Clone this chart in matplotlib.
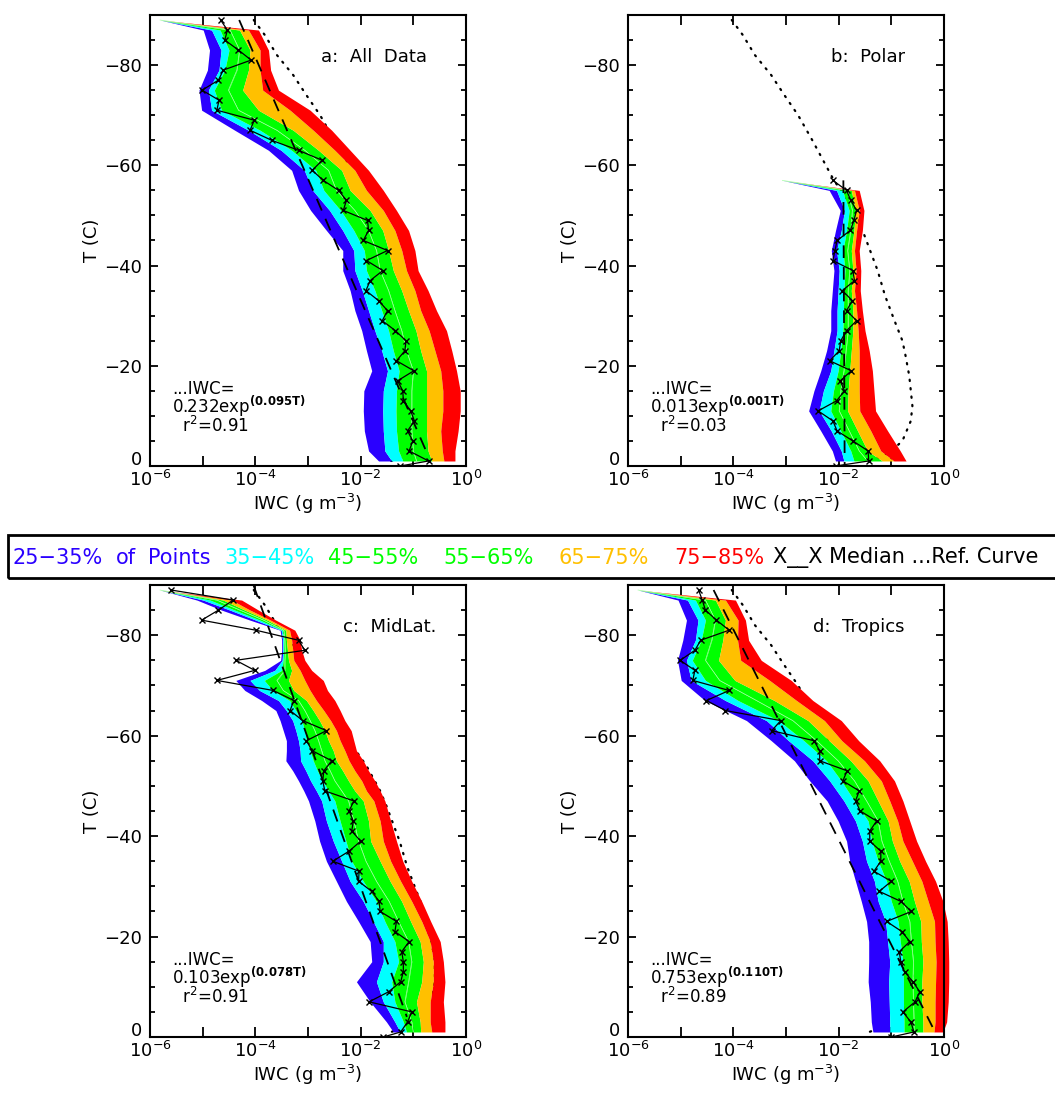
import matplotlib
matplotlib.use('Agg')
import matplotlib.pyplot as plt
import matplotlib.transforms as mtransforms
import numpy as np
from matplotlib.patches import Rectangle
from matplotlib.ticker import MultipleLocator, NullLocator

W, H = 1055, 1109

# band colours: 25-35, 35-45, 45-55, 55-65, 65-75, 75-85 %
band_colors = ['#2a00ff', '#00ffff', '#00ff00', '#00ff00', '#ffc000', '#ff0000']

# ---------------- data (log10 of IWC, g m^-3) ----------------
# bin centres for the median (every 2 C) plus the last point at 0 C
med_t = list(range(-89, 0, 2)) + [0]
med_t_polar = list(range(-57, 0, 2)) + [0]

# percentile band edges p25, p35, p45, p55, p65, p75, p85
band_t_a = [-89, -87, -83, -79, -75, -71, -67, -63, -59, -55, -51, -47,
            -43, -39, -35, -31, -27, -23, -19, -15, -11, -7, -3, -1]
a_p25 = [-5.81, -4.99, -4.87, -4.91, -5.07, -5.02, -4.39, -3.75, -3.31, -3.18, -2.95, -2.65,
         -2.34, -2.34, -2.20, -2.11, -1.98, -1.89, -1.79, -1.94, -1.95, -1.93, -1.85, -1.66]
a_p35 = [-5.81, -4.83, -4.65, -4.69, -4.89, -4.83, -4.13, -3.51, -3.07, -2.91, -2.59, -2.34,
         -2.13, -2.11, -1.97, -1.85, -1.73, -1.60, -1.49, -1.57, -1.58, -1.57, -1.54, -1.41]
a_p45 = [-5.81, -4.67, -4.50, -4.58, -4.78, -4.64, -3.91, -3.31, -2.85, -2.70, -2.38, -2.13,
         -1.93, -1.89, -1.73, -1.60, -1.47, -1.38, -1.27, -1.32, -1.33, -1.32, -1.28, -1.20]
a_p55 = [-5.81, -4.48, -4.30, -4.35, -4.51, -4.32, -3.59, -3.06, -2.61, -2.46, -2.11, -1.85,
         -1.70, -1.63, -1.47, -1.35, -1.22, -1.13, -1.00, -1.03, -1.03, -1.03, -1.00, -0.94]
a_p65 = [-5.81, -4.30, -4.10, -4.13, -4.24, -3.94, -3.28, -2.80, -2.36, -2.20, -1.82, -1.58,
         -1.47, -1.38, -1.22, -1.09, -0.95, -0.86, -0.75, -0.75, -0.75, -0.75, -0.72, -0.65]
a_p75 = [-5.81, -4.13, -3.91, -3.91, -3.86, -3.34, -2.90, -2.49, -2.11, -1.89, -1.57, -1.35,
         -1.22, -1.13, -0.97, -0.86, -0.70, -0.59, -0.48, -0.44, -0.44, -0.48, -0.45, -0.42]
a_p85 = [-5.81, -3.94, -3.75, -3.71, -3.56, -2.96, -2.55, -2.20, -1.85, -1.57, -1.32, -1.09,
         -0.97, -0.91, -0.72, -0.56, -0.37, -0.27, -0.18, -0.11, -0.11, -0.15, -0.21, -0.21]
a_med = [-4.66, -4.53, -4.58, -4.32, -4.08, -4.61, -4.70, -5.01, -4.69, -4.73, -4.02, -4.10,
         -3.69, -3.18, -2.73, -2.92, -2.71, -2.42, -2.27, -2.33, -1.87, -1.85, -1.95, -1.49,
         -1.89, -1.58, -1.82, -1.90, -1.66, -1.49, -1.59, -1.34, -1.14, -1.16, -1.32, -0.99,
         -1.30, -1.20, -1.19, -1.05, -0.98, -1.11, -1.01, -1.08, -0.71, -1.25]

band_t_b = [-57, -55, -51, -47, -43, -39, -35, -31, -27, -23, -19, -15, -11, -7, -3, -1]
b_p25 = [-3.07, -2.18, -1.97, -2.06, -2.14, -2.09, -2.12, -2.15, -2.15, -2.23, -2.34, -2.47, -2.57, -2.34, -2.12, -2.06]
b_p35 = [-3.07, -2.04, -1.89, -1.95, -2.04, -1.99, -2.01, -2.03, -2.03, -2.09, -2.15, -2.29, -2.37, -2.14, -1.95, -1.90]
b_p45 = [-3.07, -1.93, -1.80, -1.85, -1.92, -1.88, -1.90, -1.91, -1.92, -1.96, -2.01, -2.10, -2.15, -1.96, -1.77, -1.71]
b_p55 = [-3.07, -1.83, -1.74, -1.77, -1.83, -1.79, -1.82, -1.82, -1.82, -1.86, -1.90, -1.96, -1.99, -1.80, -1.61, -1.45]
b_p65 = [-3.07, -1.76, -1.68, -1.71, -1.76, -1.73, -1.76, -1.73, -1.73, -1.76, -1.79, -1.82, -1.83, -1.64, -1.45, -1.17]
b_p75 = [-3.07, -1.70, -1.61, -1.66, -1.70, -1.67, -1.70, -1.66, -1.63, -1.61, -1.61, -1.61, -1.60, -1.39, -1.20, -0.95]
b_p85 = [-3.07, -1.61, -1.52, -1.55, -1.61, -1.58, -1.59, -1.55, -1.50, -1.42, -1.36, -1.33, -1.30, -1.07, -0.83, -0.72]
b_med = [-2.11, -1.85, -1.77, -1.66, -1.71, -1.78, -2.03, -2.07, -2.11, -1.73, -1.70, -1.93,
         -1.74, -1.85, -1.66, -1.85, -1.96, -1.99, -2.17, -1.76, -1.97, -1.89, -2.04, -2.39,
         -2.11, -2.03, -1.73, -1.44, -1.43, -2.06]

band_t_c = [-89, -87, -85, -83, -81, -79, -77, -75, -73, -71, -69, -67, -65, -63, -61, -59, -57,
            -55, -53, -51, -49, -47, -43, -39, -35, -31, -27, -23, -19, -15, -11, -7, -3, -1]
c_p25 = [-5.81, -5.11, -4.64, -4.10, -3.53, -3.50, -3.50, -3.52, -3.82, -4.37, -4.20, -3.88, -3.61,
         -3.53, -3.47, -3.41, -3.41, -3.42, -3.29, -3.18, -3.08, -2.99, -2.87, -2.78, -2.65, -2.46,
         -2.27, -2.04, -1.82, -1.79, -2.08, -1.82, -1.51, -1.38]
c_p35 = [-5.81, -4.99, -4.48, -3.99, -3.51, -3.48, -3.48, -3.49, -3.63, -4.10, -3.92, -3.56, -3.41,
         -3.29, -3.23, -3.18, -3.15, -3.14, -3.04, -2.95, -2.84, -2.74, -2.65, -2.52, -2.36, -2.20,
         -1.95, -1.76, -1.57, -1.57, -1.70, -1.57, -1.35, -1.25]
c_p45 = [-5.81, -4.86, -4.39, -3.91, -3.48, -3.46, -3.46, -3.47, -3.50, -3.83, -3.67, -3.35, -3.23,
         -3.12, -3.06, -3.03, -2.96, -2.90, -2.82, -2.72, -2.61, -2.49, -2.39, -2.28, -2.17, -1.95,
         -1.70, -1.54, -1.35, -1.28, -1.41, -1.35, -1.19, -1.13]
c_p55 = [-5.81, -4.73, -4.29, -3.84, -3.46, -3.44, -3.43, -3.44, -3.44, -3.59, -3.47, -3.18, -3.06,
         -2.96, -2.87, -2.80, -2.74, -2.68, -2.58, -2.49, -2.36, -2.23, -2.13, -2.04, -1.90, -1.70,
         -1.46, -1.28, -1.09, -1.03, -1.09, -1.16, -1.03, -1.00]
c_p65 = [-5.81, -4.61, -4.20, -3.77, -3.42, -3.41, -3.39, -3.37, -3.31, -3.37, -3.27, -3.03, -2.90,
         -2.78, -2.68, -2.61, -2.52, -2.46, -2.34, -2.23, -2.11, -1.95, -1.85, -1.81, -1.63, -1.44,
         -1.22, -1.05, -0.87, -0.81, -0.84, -0.94, -0.87, -0.86]
c_p75 = [-5.81, -4.45, -4.10, -3.71, -3.35, -3.31, -3.29, -3.27, -3.15, -3.06, -2.96, -2.84, -2.70,
         -2.57, -2.46, -2.39, -2.30, -2.22, -2.11, -1.98, -1.89, -1.75, -1.63, -1.57, -1.43, -1.24,
         -1.03, -0.84, -0.68, -0.62, -0.62, -0.68, -0.68, -0.65]
c_p85 = [-5.81, -4.26, -3.94, -3.61, -3.25, -3.15, -3.12, -3.06, -2.93, -2.71, -2.63, -2.49, -2.39,
         -2.30, -2.18, -2.13, -2.08, -1.95, -1.85, -1.73, -1.63, -1.54, -1.43, -1.32, -1.20, -1.03,
         -0.84, -0.67, -0.49, -0.43, -0.40, -0.43, -0.40, -0.40]
c_med = [-5.60, -4.42, -4.70, -5.02, -3.99, -3.18, -3.06, -4.37, -4.01, -4.73, -3.66, -3.27,
         -3.34, -3.10, -2.65, -3.03, -2.92, -2.55, -2.70, -2.72, -2.68, -2.13, -2.22, -2.14,
         -2.17, -2.00, -2.22, -2.53, -2.03, -2.04, -1.79, -1.65, -1.63, -1.32, -1.35, -1.08,
         -1.22, -1.19, -1.19, -1.24, -1.47, -1.84, -1.03, -1.11, -1.24, -1.57]

band_t_d = band_t_a
d_p25 = [-5.81, -5.05, -4.89, -4.96, -5.06, -4.99, -4.54, -3.75, -3.28, -2.84, -2.55, -2.22,
         -2.01, -1.85, -1.79, -1.68, -1.57, -1.47, -1.43, -1.43, -1.44, -1.40, -1.38, -1.35]
d_p35 = [-5.81, -4.87, -4.67, -4.72, -4.89, -4.80, -4.15, -3.37, -2.95, -2.49, -2.17, -1.90,
         -1.68, -1.55, -1.47, -1.32, -1.25, -1.11, -1.07, -1.03, -1.05, -1.04, -1.03, -1.03]
d_p45 = [-5.81, -4.72, -4.53, -4.61, -4.78, -4.53, -3.91, -3.14, -2.66, -2.23, -1.95, -1.70,
         -1.44, -1.37, -1.25, -1.09, -1.00, -0.87, -0.83, -0.78, -0.77, -0.77, -0.76, -0.76]
d_p55 = [-5.81, -4.53, -4.34, -4.41, -4.53, -4.26, -3.56, -2.87, -2.42, -2.01, -1.70, -1.47,
         -1.25, -1.18, -1.04, -0.88, -0.78, -0.65, -0.62, -0.58, -0.59, -0.58, -0.57, -0.57]
d_p65 = [-5.81, -4.34, -4.15, -4.20, -4.28, -3.97, -3.22, -2.58, -2.18, -1.77, -1.44, -1.25,
         -1.06, -0.98, -0.84, -0.66, -0.56, -0.44, -0.43, -0.40, -0.42, -0.42, -0.40, -0.40]
d_p75 = [-5.81, -4.15, -3.91, -3.92, -3.86, -3.31, -2.80, -2.27, -1.94, -1.51, -1.19, -1.03,
         -0.88, -0.78, -0.60, -0.42, -0.30, -0.18, -0.17, -0.15, -0.16, -0.17, -0.17, -0.19]
d_p85 = [-5.81, -3.96, -3.77, -3.71, -3.47, -2.90, -2.49, -1.95, -1.62, -1.22, -0.94, -0.78,
         -0.65, -0.52, -0.35, -0.16, -0.02, 0.06, 0.08, 0.09, 0.09, 0.08, 0.05, -0.02]
d_med = [-4.66, -4.59, -4.53, -4.32, -4.08, -4.62, -4.73, -5.01, -4.73, -4.77, -4.08, -4.51,
         -4.15, -3.10, -3.27, -2.47, -2.36, -2.36, -1.84, -1.92, -1.61, -1.68, -1.59, -1.28,
         -1.41, -1.41, -1.20, -1.20, -1.33, -1.00, -1.23, -0.82, -0.62, -1.09, -0.80, -0.65,
         -0.85, -0.82, -0.75, -0.59, -0.46, -0.55, -0.78, -0.63, -0.57, -1.00]

# reference curve (dotted), same in every panel
ref_t = [-89, -86, -82, -78, -74, -70, -65, -57, -54, -49, -46, -39, -34, -29, -25, -22,
         -18, -12, -9, -5, -3, -2, -1]
ref_log = [-4.03, -3.82, -3.59, -3.28, -3.03, -2.77, -2.50, -2.09, -1.89, -1.63, -1.51, -1.26,
           -1.12, -0.94, -0.79, -0.73, -0.66, -0.60, -0.63, -0.79, -1.00, -1.15, -1.42]

# exponential fits IWC = A exp(B T)
fits = {'a': (0.232, 0.095, '0.095T', '0.91'),
        'b': (0.013, 0.001, '0.001T', '0.03'),
        'c': (0.103, 0.078, '0.078T', '0.91'),
        'd': (0.753, 0.110, '0.110T', '0.89')}

legend_items = [('25\u221235%', band_colors[0], 13),
                ('of', band_colors[0], 116),
                ('Points', band_colors[0], 148),
                ('35\u221245%', band_colors[1], 224),
                ('45\u221255%', band_colors[2], 328),
                ('55\u221265%', band_colors[3], 443),
                ('65\u221275%', band_colors[4], 559),
                ('75\u221285%', band_colors[5], 674),
                ('X__X Median ...Ref. Curve', 'black', 773)]


def px_rect(x0, y0, x1, y1):
    return [x0 / W, 1 - y1 / H, (x1 - x0) / W, (y1 - y0) / H]


def draw_panel(ax, band_t, edges, mt, med, fit, fit_t, title, title_x):
    band_t = np.array(band_t)
    edges = [10 ** np.array(e) for e in edges]

    # reference curve sits under the bands
    ax.plot(10 ** np.array(ref_log), ref_t, color='black', lw=1.6,
            linestyle=(0, (0.6, 3.2)), dash_capstyle='round', zorder=1)

    for i in range(6):
        ax.fill_betweenx(band_t, edges[i], edges[i + 1], color=band_colors[i],
                         lw=0, clip_on=False, zorder=2)
    ax.plot(edges[3], band_t, color='#a8ffa8', lw=0.5, zorder=2.5)

    A, B, lab, r2 = fit
    tt = np.linspace(fit_t[0], fit_t[1], 200)
    ax.plot(A * np.exp(B * tt), tt, color='black', lw=1.3,
            linestyle=(0, (7, 5)), zorder=3)

    ax.plot(10 ** np.array(med), mt, color='black', lw=0.9, marker='x',
            ms=5, mew=1.0, zorder=4)

    ax.set_xscale('log')
    ax.set_xlim(1e-6, 1e0)
    ax.set_ylim(0, -90)
    ax.set_xticks([1e-6, 1e-5, 1e-4, 1e-3, 1e-2, 1e-1, 1e0])
    ax.set_xticklabels(['$10^{-6}$', '', '$10^{-4}$', '', '$10^{-2}$', '', '$10^{0}$'])
    ax.xaxis.set_minor_locator(NullLocator())
    ax.set_yticks([0, -20, -40, -60, -80])
    ax.yaxis.set_minor_locator(MultipleLocator(5))
    ax.tick_params(which='both', direction='in', top=True, right=True, width=1.3,
                   labelsize=13)
    ax.tick_params(axis='x', which='major', length=7, pad=3)
    ax.tick_params(axis='y', which='major', length=6, pad=6)
    ax.tick_params(axis='y', which='minor', length=3.5)
    for s in ax.spines.values():
        s.set_linewidth(1.5)

    # lift the "0" label a little so it clears the 10^-6 label
    lab0 = ax.yaxis.get_major_ticks()[0].label1
    lab0.set_transform(lab0.get_transform() +
                       mtransforms.ScaledTranslation(0, 6 / 72, fig.dpi_scale_trans))

    ax.set_xlabel('IWC (g m$^{-3}$)', fontsize=13, labelpad=1)
    ax.set_ylabel('T (C)', fontsize=13, labelpad=2)

    ax.text(title_x, 0.906, title, transform=ax.transAxes, ha='right',
            va='center', fontsize=13)
    note = '...IWC=\n%.3fexp$^{\\mathbf{(%s)}}$\n  r$^2$=%s' % (A, lab, r2)
    ax.text(0.07, 0.19, note, transform=ax.transAxes, fontsize=12, va='top',
            ha='left', linespacing=0.78)


fig = plt.figure(figsize=(W / 100, H / 100), dpi=100)

ax_a = fig.add_axes(px_rect(150, 15, 466, 466))
ax_b = fig.add_axes(px_rect(628, 15, 944, 466))
ax_c = fig.add_axes(px_rect(150, 585, 466, 1037))
ax_d = fig.add_axes(px_rect(628, 585, 944, 1037))

draw_panel(ax_a, band_t_a, [a_p25, a_p35, a_p45, a_p55, a_p65, a_p75, a_p85],
           med_t, a_med, fits['a'], (-89, -3), 'a:  All  Data', 0.877)
draw_panel(ax_b, band_t_b, [b_p25, b_p35, b_p45, b_p55, b_p65, b_p75, b_p85],
           med_t_polar, b_med, fits['b'], (-57, 0), 'b:  Polar', 0.877)
draw_panel(ax_c, band_t_c, [c_p25, c_p35, c_p45, c_p55, c_p65, c_p75, c_p85],
           med_t, c_med, fits['c'], (-90, -4), 'c:  MidLat.', 0.905)
draw_panel(ax_d, band_t_d, [d_p25, d_p35, d_p45, d_p55, d_p65, d_p75, d_p85],
           med_t, d_med, fits['d'], (-89, -2), 'd:  Tropics', 0.876)

# legend strip across the middle
fig.patches.append(Rectangle((8 / W, 1 - 578 / H), 1.2, 43 / H, transform=fig.transFigure,
                             fill=False, lw=2, edgecolor='black'))
for txt, col, x in legend_items:
    fig.text(x / W, 1 - 558 / H, txt, color=col, fontsize=15, va='center', ha='left')

fig.savefig('out.png', dpi=100)
